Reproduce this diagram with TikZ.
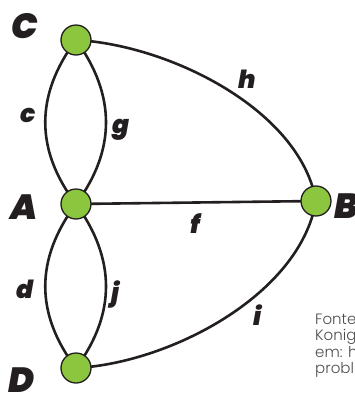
\documentclass[tikz,border=0pt]{standalone}
\usepackage{fontspec}
\setmainfont{Poppins}
\newfontfamily\labfont{Poppins Black Italic}
\newfontfamily\notefont{Poppins Light}
\definecolor{nodegreen}{HTML}{8CC63F}
\definecolor{edgeblack}{HTML}{231F20}
\definecolor{notegray}{HTML}{4D4D4D}
\begin{document}
\begin{tikzpicture}[x=1pt,y=-1pt,
  vertex/.style={circle,draw=edgeblack,line width=1.3pt,fill=nodegreen,minimum size=30pt,inner sep=0pt},
  edge/.style={draw=edgeblack,line width=2.6pt},
  big/.style={font=\labfont\fontsize{35}{35}\selectfont,text=edgeblack,anchor=base west,inner sep=0pt},
  small/.style={font=\labfont\fontsize{25}{25}\selectfont,text=edgeblack,anchor=base west,inner sep=0pt},
  note/.style={font=\notefont\fontsize{15}{15}\selectfont,text=notegray,anchor=base west,inner sep=0pt}]
\useasboundingbox (0,0) rectangle (354,394);
\clip (0,0) rectangle (354,394);
\coordinate (C) at (76,40);
\coordinate (A) at (76,204);
\coordinate (B) at (316,201);
\coordinate (D) at (76,368);
% edges
\draw[edge] (C) .. controls (35,95) and (35,150) .. (A);
\draw[edge] (C) .. controls (116,95) and (116,150) .. (A);
\draw[edge] (A) .. controls (35,259) and (35,314) .. (D);
\draw[edge] (A) .. controls (116,259) and (116,314) .. (D);
\draw[edge] (A) -- (B);
\draw[edge] (C) .. controls (170,45) and (300,110) .. (B);
\draw[edge] (D) .. controls (170,363) and (300,295) .. (B);
% vertices
\node[vertex] (nC) at (C) {};
\node[vertex] (nA) at (A) {};
\node[vertex] (nB) at (B) {};
\node[vertex] (nD) at (D) {};
% vertex labels
\node[big] (lC) at (11,38) {C};
\node[big] (lA) at (10,219) {A};
\node[big] (lD) at (8,392) {D};
\node[big] (lB) at (334,218) {B};
% edge labels
\node[small] (lc) at (20,122) {c};
\node[small] (lg) at (112,133) {g};
\node[small] (lh) at (238,88) {h};
\node[small] (lf) at (190,233) {f};
\node[small] (ld) at (16,298) {d};
\node[small] (lj) at (111,301) {j};
\node[small] (li) at (253,325) {i};
% note (cropped at the right edge)
\node[note] (n1) at (315,324) {Fonte};
\node[note] (n2) at (315,340.5) {Konig};
\node[note] (n3) at (315,357) {em: h};
\node[note] (n4) at (315,373.5) {probl};
\end{tikzpicture}
\end{document}
